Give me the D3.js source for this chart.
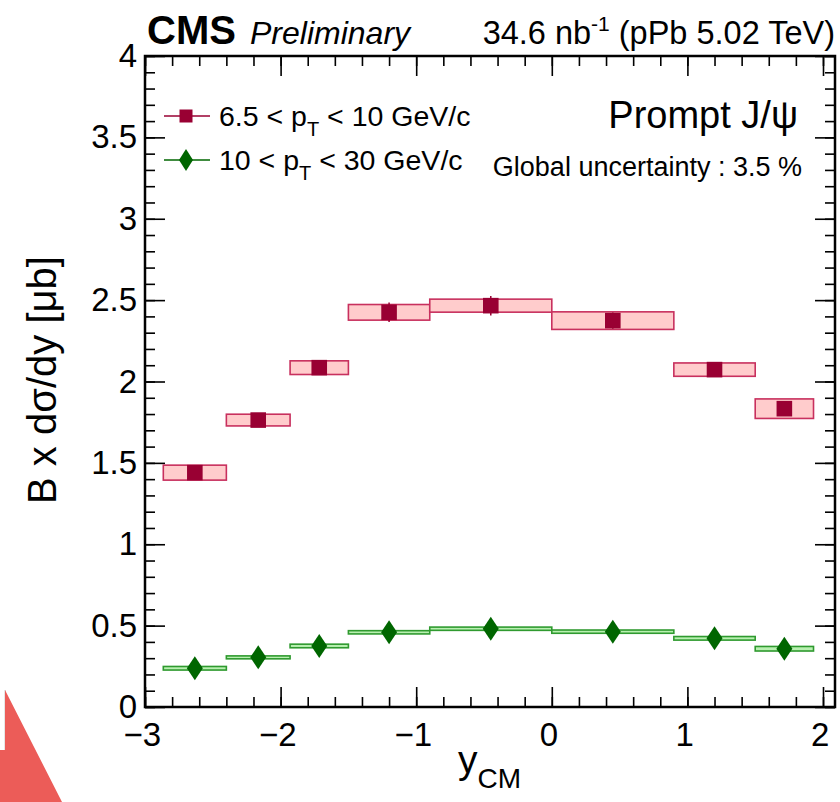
<html>
<head>
<meta charset="utf-8" />
<script src="https://d3js.org/d3.v7.min.js"></script>
<style>
  body { margin: 0; background: #fff; }
  svg text { font-family: "Liberation Sans", Arial, Helvetica, sans-serif; fill: #000; }
  .axis path { display: none; }
  .axis line { stroke: #000; stroke-width: 1.6; }
</style>
</head>
<body>
<svg id="chart" width="840" height="802"></svg>
<script>
// rapidity bins (y_CM)
let binEdges = [-2.865, -2.4, -1.93, -1.5, -0.9, 0, 0.9, 1.5, 1.93]

// 6.5 < pT < 10 GeV/c
let lowPtValues = [1.44, 1.763, 2.085, 2.425, 2.466, 2.374, 2.073, 1.833]
let lowPtSyst   = [0.046, 0.036, 0.042, 0.048, 0.040, 0.054, 0.041, 0.060]
let lowPtStat   = [0.03, 0.03, 0.03, 0.06, 0.06, 0.05, 0.03, 0.03]

// 10 < pT < 30 GeV/c
let highPtValues = [0.238, 0.305, 0.375, 0.459, 0.481, 0.463, 0.422, 0.358]
let highPtSyst   = [0.011, 0.009, 0.011, 0.010, 0.010, 0.010, 0.011, 0.014]
let highPtStat   = [0.01, 0.01, 0.01, 0.01, 0.01, 0.01, 0.01, 0.01]

let xMajorTicks = [-3, -2, -1, 0, 1, 2]
let yMajorTicks = [0, 0.5, 1, 1.5, 2, 2.5, 3, 3.5, 4]

let svg = d3.select("#chart")

let padL = 145, padR = 835, padT = 56, padB = 707
let x = d3.scaleLinear().domain([-3, -3 + (padR - padL) / 135.6]).range([padL, padR])
let y = d3.scaleLinear().domain([0, 4]).range([padB, padT])

let xMinor = d3.range(-3, 2.01, 0.2).map(d => +d.toFixed(1))
let yMinor = d3.range(0, 4.001, 0.1).map(d => +d.toFixed(1))

let fmtX = d => d < 0 ? "\u2212" + Math.abs(d) : "" + d

// bottom axis
svg.append("g").attr("class", "axis").attr("transform", `translate(0,${padB})`)
  .call(d3.axisBottom(x).tickValues(xMinor).tickSize(-10).tickFormat(""))
svg.append("g").attr("class", "axis").attr("transform", `translate(0,${padB})`)
  .call(d3.axisBottom(x).tickValues(xMajorTicks).tickSize(-20).tickFormat(fmtX))
  .selectAll("text").attr("font-size", 33).attr("y", 8).attr("dy", "0.95em").attr("dx", "-0.1em")
// top axis
svg.append("g").attr("class", "axis").attr("transform", `translate(0,${padT})`)
  .call(d3.axisTop(x).tickValues(xMinor).tickSize(-10).tickFormat(""))
svg.append("g").attr("class", "axis").attr("transform", `translate(0,${padT})`)
  .call(d3.axisTop(x).tickValues(xMajorTicks).tickSize(-20).tickFormat(""))
// left axis
svg.append("g").attr("class", "axis").attr("transform", `translate(${padL},0)`)
  .call(d3.axisLeft(y).tickValues(yMinor).tickSize(-10).tickFormat(""))
svg.append("g").attr("class", "axis").attr("transform", `translate(${padL},0)`)
  .call(d3.axisLeft(y).tickValues(yMajorTicks).tickSize(-20).tickFormat(d => d))
  .selectAll("text").attr("font-size", 33).attr("x", -8)
// right axis
svg.append("g").attr("class", "axis").attr("transform", `translate(${padR},0)`)
  .call(d3.axisRight(y).tickValues(yMinor).tickSize(-10).tickFormat(""))
svg.append("g").attr("class", "axis").attr("transform", `translate(${padR},0)`)
  .call(d3.axisRight(y).tickValues(yMajorTicks).tickSize(-20).tickFormat(""))

// frame
svg.append("rect").attr("x", padL).attr("y", padT)
  .attr("width", padR - padL).attr("height", padB - padT)
  .attr("fill", "none").attr("stroke", "#000").attr("stroke-width", 2.5)

let bins = binEdges.slice(0, -1).map((e, i) => ({ lo: e, hi: binEdges[i + 1], c: (e + binEdges[i + 1]) / 2 }))

function drawSeries(vals, syst, stat, boxFill, boxStroke, color, shape) {
  let g = svg.append("g")
  let data = bins.map((b, i) => ({ ...b, v: vals[i], s: syst[i], st: stat[i] }))
  g.selectAll("rect.sys").data(data).enter().append("rect")
    .attr("x", d => x(d.lo)).attr("width", d => x(d.hi) - x(d.lo))
    .attr("y", d => y(d.v + d.s)).attr("height", d => y(d.v - d.s) - y(d.v + d.s))
    .attr("fill", boxFill).attr("stroke", boxStroke).attr("stroke-width", 1.6)
  g.selectAll("line.stat").data(data).enter().append("line")
    .attr("x1", d => x(d.c)).attr("x2", d => x(d.c))
    .attr("y1", d => y(d.v + d.st)).attr("y2", d => y(d.v - d.st))
    .attr("stroke", color).attr("stroke-width", 1.5)
  g.selectAll("path.mk").data(data).enter().append("path")
    .attr("transform", d => `translate(${x(d.c)},${y(d.v)})`)
    .attr("d", shape).attr("fill", color)
}

let square = "M-7.8,-7.8H7.8V7.8H-7.8Z"
let diamond = "M0,-12L8,0L0,12L-8,0Z"

drawSeries(lowPtValues, lowPtSyst, lowPtStat, "#ffcccc", "#c8305e", "#990033", square)
drawSeries(highPtValues, highPtSyst, highPtStat, "#b8f0b0", "#2f9a2f", "#006600", diamond)

// legend
let legend = [
  { label: "6.5 < p", sub: "T", rest: " < 10 GeV/c", color: "#990033", shape: "M-6.5,-6.5H6.5V6.5H-6.5Z", y: 116 },
  { label: "10 < p", sub: "T", rest: " < 30 GeV/c", color: "#006600", shape: "M0,-11L7,0L0,11L-7,0Z", y: 160 }
]
legend.forEach(l => {
  svg.append("line").attr("x1", 164).attr("x2", 210).attr("y1", l.y).attr("y2", l.y)
    .attr("stroke", l.color).attr("stroke-width", 1.5)
  svg.append("path").attr("transform", `translate(186,${l.y})`).attr("d", l.shape).attr("fill", l.color)
  let t = svg.append("text").attr("x", 219).attr("y", l.y + 10).attr("font-size", 28.5)
  t.append("tspan").text(l.label)
  t.append("tspan").attr("font-size", 20).attr("dy", 10).text(l.sub)
  t.append("tspan").attr("dy", -10).text(l.rest)
})

svg.append("text").attr("x", 798).attr("y", 128).attr("text-anchor", "end")
  .attr("font-size", 38).text("Prompt J/\u03c8")
svg.append("text").attr("x", 802).attr("y", 176).attr("text-anchor", "end")
  .attr("font-size", 27).text("Global uncertainty : 3.5 %")

// header
svg.append("text").attr("x", 147).attr("y", 44).attr("font-size", 40).attr("font-weight", "bold").text("CMS")
svg.append("text").attr("x", 250).attr("y", 44).attr("font-size", 32).attr("font-style", "italic").text("Preliminary")
let lumi = svg.append("text").attr("x", 835).attr("y", 44).attr("text-anchor", "end").attr("font-size", 32.5)
lumi.append("tspan").text("34.6 nb")
lumi.append("tspan").attr("font-size", 21).attr("dy", -13).text("-1")
lumi.append("tspan").attr("dy", 13).text(" (pPb 5.02 TeV)")

// axis titles
svg.append("text").attr("transform", "translate(56,380) rotate(-90)").attr("text-anchor", "middle")
  .attr("font-size", 40).text("B x d\u03c3/dy [\u03bcb]")
let xt = svg.append("text").attr("x", 458).attr("y", 773).attr("font-size", 39)
xt.append("tspan").text("y")
xt.append("tspan").attr("font-size", 28).attr("dy", 15).text("CM")

// red corner shape from the screenshot
svg.append("line").attr("x1", 5).attr("x2", 5).attr("y1", 690).attr("y2", 750).attr("stroke", "#ccc").attr("stroke-width", 1)
svg.append("path").attr("d", "M5,690L62,802L0,802L0,750L5,750Z").attr("fill", "#ec5c58")
</script>
</body>
</html>
